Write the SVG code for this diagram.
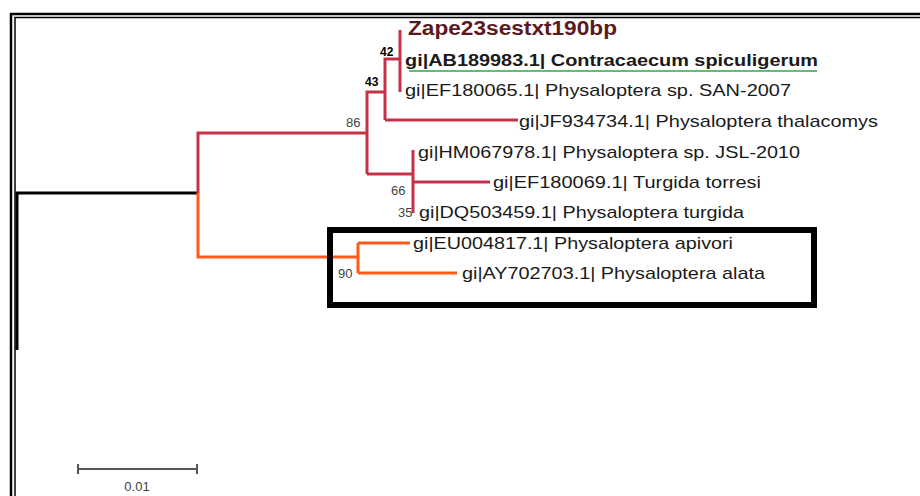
<svg xmlns="http://www.w3.org/2000/svg" width="920" height="496" viewBox="0 0 920 496">
<style>
.r{stroke:#c53248;stroke-width:3;fill:none}
.o{stroke:#ff5a1e;stroke-width:3;fill:none}
.k{stroke:#000;fill:none}
.lab{font-family:"Liberation Sans",Arial,sans-serif;font-size:17px;fill:#1a1a1a}
.bs{font-family:"Liberation Sans",Arial,sans-serif;font-size:13px;fill:#444}
.bsb{font-family:"Liberation Sans",Arial,sans-serif;font-size:12px;font-weight:bold;fill:#000}
</style>
<rect width="920" height="496" fill="#fff"/>
<g id="frame">
<path class="k" d="M11 496V14H920" stroke-width="2.5"/>
<path class="k" d="M15 496V17.5H920" stroke-width="1.5"/>
</g>
<g id="connectors">
<path class="k" stroke-width="3" d="M17 350V193H198"/>
<path class="r" d="M198 193V133H367M367 174V92H385M385 120V59H400M400 30V92M385 120H518M367 174H413M413 150V213M413 182H490"/>
<path class="o" d="M198 193V257H358M358 243V273M358 243H410M358 273H457"/>
</g>
<g id="leaves">
<text x="408" y="35" font-family="Liberation Sans,Arial,sans-serif" font-size="19.5" font-weight="bold" fill="#5a1a1f" textLength="209" lengthAdjust="spacingAndGlyphs">Zape23sestxt190bp</text>
<text x="405" y="66" class="lab" font-weight="bold" fill="#111" textLength="413" lengthAdjust="spacingAndGlyphs">gi|AB189983.1| Contracaecum spiculigerum</text>
<line x1="409" y1="71" x2="817" y2="71" stroke="#2aa84a" stroke-width="1.5"/>
<text x="405" y="96" class="lab" textLength="386" lengthAdjust="spacingAndGlyphs">gi|EF180065.1| Physaloptera sp. SAN-2007</text>
<text x="519" y="127" class="lab" textLength="359" lengthAdjust="spacingAndGlyphs">gi|JF934734.1| Physaloptera thalacomys</text>
<text x="418" y="158" class="lab" textLength="382" lengthAdjust="spacingAndGlyphs">gi|HM067978.1| Physaloptera sp. JSL-2010</text>
<text x="493" y="188" class="lab" textLength="268" lengthAdjust="spacingAndGlyphs">gi|EF180069.1| Turgida torresi</text>
<text x="419" y="218" class="lab" textLength="325" lengthAdjust="spacingAndGlyphs">gi|DQ503459.1| Physaloptera turgida</text>
<text x="413" y="249" class="lab" textLength="320" lengthAdjust="spacingAndGlyphs">gi|EU004817.1| Physaloptera apivori</text>
<text x="462" y="279" class="lab" textLength="303" lengthAdjust="spacingAndGlyphs">gi|AY702703.1| Physaloptera alata</text>
</g>
<g id="support">
<text x="380" y="56" class="bsb">42</text>
<text x="365" y="86" class="bsb">43</text>
<text x="346" y="127" class="bs">86</text>
<text x="391" y="195" class="bs">66</text>
<text x="398" y="217" class="bs" font-size="11">35</text>
<text x="338" y="278" class="bs" font-size="12">90</text>
</g>
<g id="highlight">
<rect x="330" y="230" width="484" height="75" fill="none" stroke="#000" stroke-width="6"/>
</g>
<g id="scale">
<path d="M78 469H197M78 464V474M197 464V474" stroke="#555" stroke-width="2" fill="none"/>
<text x="137" y="491" class="bs" font-size="12.5" text-anchor="middle">0.01</text>
</g>
</svg>
